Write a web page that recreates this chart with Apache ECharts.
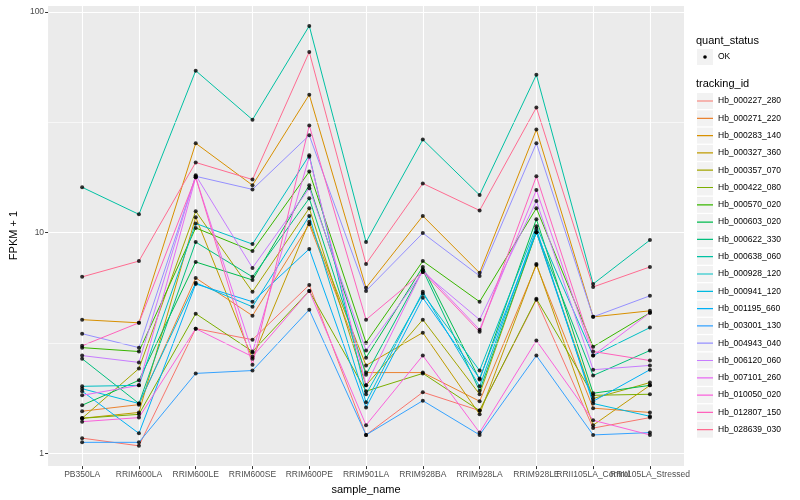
<!DOCTYPE html>
<html><head><meta charset="utf-8">
<script src="https://cdn.jsdelivr.net/npm/echarts@6/dist/echarts.min.js"></script>
<style>html,body{margin:0;padding:0;background:#fff}#c{width:800px;height:500px}</style>
</head><body><div id="c"></div>
<script>
const categories = ['PB350LA','RRIM600LA','RRIM600LE','RRIM600SE','RRIM600PE','RRIM901LA','RRIM928BA','RRIM928LA','RRIM928LE','RRII105LA_Control','RRII105LA_Stressed'];
const trackingIds = ['Hb_000227_280','Hb_000271_220','Hb_000283_140','Hb_000327_360','Hb_000357_070','Hb_000422_080','Hb_000570_020','Hb_000603_020','Hb_000622_330','Hb_000638_060','Hb_000928_120','Hb_000941_120','Hb_001195_660','Hb_003001_130','Hb_004943_040','Hb_006120_060','Hb_007101_260','Hb_010050_020','Hb_012807_150','Hb_028639_030'];
const colors = ['#F8766D','#EA8331','#D89000','#C09B00','#A3A500','#7CAE00','#39B600','#00BB4E','#00BF7D','#00C1A3','#00BFC4','#00BAE0','#00B0F6','#35A2FF','#9590FF','#C77CFF','#E76BF3','#FA62DB','#FF62BC','#FF6C91'];

const hb_000227_280 = [1.17, 1.08, 3.67, 3.27, 5.79, 1.21, 1.89, 1.56, 4.96, 1.30, 1.45];
const hb_000271_220 = [1.55, 1.66, 6.23, 4.20, 10.9, 2.32, 2.32, 1.72, 7.13, 1.60, 1.53];
const hb_000283_140 = [4.03, 3.90, 25.4, 16.4, 42.2, 5.62, 11.9, 6.57, 29.3, 4.15, 4.42];
const hb_000327_360 = [1.44, 1.53, 11.75, 2.68, 11.2, 2.50, 3.52, 1.50, 7.21, 1.34, 2.03];
const hb_000357_070 = [1.44, 2.42, 12.5, 5.39, 12.9, 2.03, 4.03, 1.85, 10.05, 1.77, 2.09];
const hb_000422_080 = [1.44, 1.50, 4.29, 2.89, 5.44, 1.91, 2.30, 1.56, 5.01, 1.83, 1.85];
const hb_000570_020 = [3.01, 2.89, 10.5, 8.25, 18.9, 3.17, 7.43, 4.86, 12.9, 3.04, 4.33];
const hb_000603_020 = [1.65, 2.14, 7.36, 6.10, 16.4, 2.71, 6.99, 2.16, 11.5, 1.87, 2.03];
const hb_000622_330 = [2.68, 1.68, 9.06, 6.30, 14.3, 2.27, 6.77, 1.92, 10.05, 2.25, 2.92];
const hb_000638_060 = [16.05, 12.1, 54.2, 32.5, 86.5, 9.06, 26.4, 14.8, 51.9, 5.85, 9.25];
const hb_000928_120 = [2.01, 2.03, 11.0, 8.87, 22.4, 1.85, 5.28, 2.37, 10.7, 2.77, 3.71];
const hb_000941_120 = [1.96, 1.68, 5.92, 4.61, 11.9, 1.70, 5.39, 2.01, 10.4, 1.68, 1.47];
const hb_001195_660 = [1.91, 1.23, 5.85, 4.86, 8.43, 1.61, 5.06, 2.18, 10.05, 1.72, 2.39];
const hb_003001_130 = [1.12, 1.12, 2.30, 2.37, 4.47, 1.21, 1.73, 1.21, 2.77, 1.21, 1.24];
const hb_004943_040 = [3.48, 3.01, 18.0, 15.7, 27.6, 5.44, 9.95, 6.36, 25.4, 4.15, 5.17];
const hb_006120_060 = [2.77, 2.58, 18.2, 6.92, 15.9, 2.92, 6.63, 4.03, 13.9, 2.39, 2.50];
const hb_007101_260 = [1.83, 2.03, 17.8, 2.86, 22.1, 2.03, 6.77, 3.63, 15.6, 2.77, 4.33];
const hb_010050_020 = [1.39, 1.45, 3.67, 2.74, 5.44, 1.34, 2.77, 1.24, 3.24, 1.41, 1.21];
const hb_012807_150 = [3.07, 3.90, 17.8, 2.52, 30.6, 4.03, 6.63, 3.55, 18.0, 2.89, 2.63];
const hb_028639_030 = [6.30, 7.43, 20.8, 17.4, 65.9, 7.21, 16.7, 12.6, 36.9, 5.67, 6.99];

const values = [hb_000227_280, hb_000271_220, hb_000283_140, hb_000327_360, hb_000357_070, hb_000422_080, hb_000570_020, hb_000603_020, hb_000622_330, hb_000638_060, hb_000928_120, hb_000941_120, hb_001195_660, hb_003001_130, hb_004943_040, hb_006120_060, hb_007101_260, hb_010050_020, hb_012807_150, hb_028639_030];
const minorBreaks = [3.162, 31.62];

const FONT = 'Liberation Sans';
const catIdx = categories.map((c, i) => i);
const evenIdx = catIdx.filter(i => i % 2 === 0);
const oddIdx = catIdx.filter(i => i % 2 === 1);
const chart = echarts.init(document.getElementById('c'), null, {renderer: 'canvas'});

const series = trackingIds.map((id, k) => ({
  name: id, type: 'line', z: 2, silent: true, animation: false,
  symbol: 'none', showSymbol: false,
  data: values[k].map((v, i) => [i, v]),
  lineStyle: {color: colors[k], width: 1},
  itemStyle: {color: colors[k]}
}));
series.push({
  type: 'line', z: 1, data: [], silent: true, animation: false,
  markLine: {silent: true, symbol: 'none', animation: false, label: {show: false},
    lineStyle: {color: '#ffffff', width: 0.6, type: 'solid'},
    emphasis: {disabled: true},
    data: minorBreaks.map(v => ({yAxis: v}))}
});
series.push({
  name: 'OK', type: 'scatter', z: 3, silent: true, animation: false,
  symbol: 'circle', symbolSize: 4,
  itemStyle: {color: '#000'},
  data: values.flatMap(vals => vals.map((v, i) => [i, v]))
});

const LINE_ICON = 'path://M0,7.4L16,7.4L16,8.6L0,8.6Z M0,0L0.01,0L0.01,0.01Z M15.99,15.99L16,15.99L16,16Z';
const labelStyle = {color: '#4D4D4D', fontSize: 8.5, fontFamily: FONT, margin: 4,
  formatter: v => categories[Math.round(v)], showMinLabel: true, showMaxLabel: true, hideOverlap: false};

chart.setOption({
  animation: false,
  backgroundColor: '#ffffff',
  grid: {left: 40, top: 5, width: 644, height: 463, show: true, backgroundColor: '#EBEBEB', borderWidth: 0},
  xAxis: [{
    type: 'value', min: -0.6, max: 10.6, position: 'bottom',
    axisLine: {show: false, onZero: false},
    axisTick: {show: true, length: 3, customValues: catIdx, lineStyle: {color: '#333333', width: 1}},
    axisLabel: Object.assign({customValues: evenIdx}, labelStyle),
    splitLine: {show: true, lineStyle: {color: '#ffffff', width: 1.1}},
    name: 'sample_name', nameLocation: 'middle', nameGap: 15,
    nameTextStyle: {color: '#000', fontSize: 11, fontFamily: FONT}
  }, {
    type: 'value', min: -0.6, max: 10.6, position: 'bottom', offset: 0,
    axisLine: {show: false, onZero: false},
    axisTick: {show: false},
    axisLabel: Object.assign({customValues: oddIdx}, labelStyle),
    splitLine: {show: false}
  }],
  yAxis: {
    type: 'log', logBase: 10, min: 0.874, max: 107.6,
    axisLine: {show: false, onZero: false},
    axisTick: {show: true, length: 3, lineStyle: {color: '#333333', width: 1}},
    axisLabel: {color: '#4D4D4D', fontSize: 8.5, fontFamily: FONT, margin: 4, showMinLabel: false, showMaxLabel: false},
    splitLine: {show: true, lineStyle: {color: '#ffffff', width: 1.1}},
    name: 'FPKM + 1', nameLocation: 'middle', nameGap: 22,
    nameTextStyle: {color: '#000', fontSize: 11, fontFamily: FONT}
  },
  legend: [
    {orient: 'vertical', left: 697, top: 93, padding: 0, itemWidth: 16, itemHeight: 16, itemGap: 1.3,
     icon: 'rect', selectedMode: false,
     itemStyle: {color: '#F2F2F2', borderWidth: 0},
     data: trackingIds.map(id => ({name: id, icon: 'rect', itemStyle: {color: '#F2F2F2', borderWidth: 0}})),
     textStyle: {fontFamily: FONT, fontSize: 8.5, color: '#000'}},
    {orient: 'vertical', left: 697, top: 93, padding: 0, itemWidth: 16, itemHeight: 16, itemGap: 1.3,
     selectedMode: false, z: 6, formatter: () => '',
     itemStyle: {borderWidth: 0},
     data: trackingIds.map((id, k) => ({name: id, icon: LINE_ICON, itemStyle: {color: colors[k], borderWidth: 0}})),
     textStyle: {fontFamily: FONT, fontSize: 8.5, color: '#000'}}
  ],
  graphic: [
    {type: 'text', x: 696, y: 40.5, style: {text: 'quant_status', fontFamily: FONT, fontSize: 11, fill: '#000', verticalAlign: 'middle'}},
    {type: 'rect', shape: {x: 697, y: 49, width: 16, height: 16}, style: {fill: '#F2F2F2'}},
    {type: 'circle', shape: {cx: 705, cy: 57, r: 1.8}, style: {fill: '#000'}},
    {type: 'text', x: 718, y: 57, style: {text: 'OK', fontFamily: FONT, fontSize: 8.5, fill: '#000', verticalAlign: 'middle'}},
    {type: 'text', x: 696, y: 84, style: {text: 'tracking_id', fontFamily: FONT, fontSize: 11, fill: '#000', verticalAlign: 'middle'}}
  ],
  series: series
});
</script></body></html>
